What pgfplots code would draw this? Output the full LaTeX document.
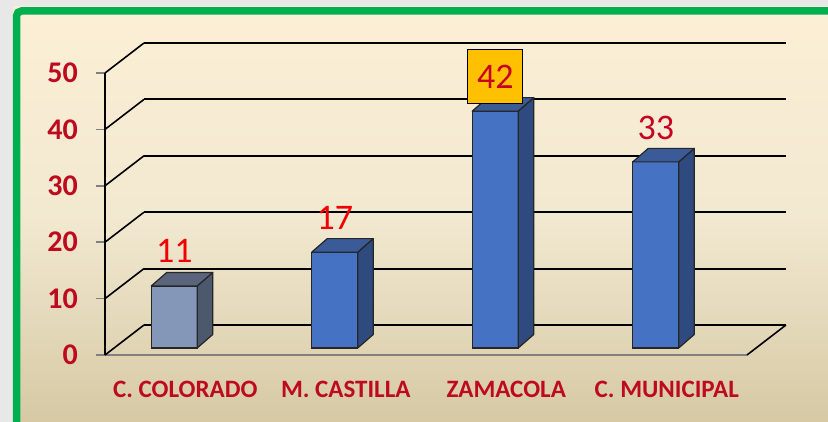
\documentclass[border=0pt]{standalone}
\usepackage{fontspec}
\setmainfont{Carlito}
\usepackage{pgfplots}
\pgfplotsset{compat=1.18}

\definecolor{frameGreen}{RGB}{0,176,80}
\definecolor{outerGrey}{RGB}{232,232,232}
\definecolor{creamTop}{RGB}{252,239,213}
\definecolor{creamMid}{RGB}{242,233,209}
\definecolor{creamBot}{RGB}{214,201,164}
\definecolor{labRed}{RGB}{190,10,30}
\definecolor{valRed}{RGB}{240,0,0}
\definecolor{valDark}{RGB}{200,0,35}
\definecolor{barFront}{RGB}{70,114,196}
\definecolor{barSide}{RGB}{46,74,126}
\definecolor{barTop}{RGB}{58,90,152}
\definecolor{greyFront}{RGB}{132,151,184}
\definecolor{greySide}{RGB}{76,88,108}
\definecolor{greyTop}{RGB}{90,100,124}
\definecolor{boxYellow}{RGB}{255,192,0}
\definecolor{tickGrey}{RGB}{128,128,128}

\pgfdeclareplotmark{nothing}{}

\pgfplotsset{
  basebox/.style={
    scale only axis, width=642pt, height=282pt,
    xmin=-0.5, xmax=3.5, ymin=0, ymax=50,
    clip=false,
  },
  hiddenbox/.style={
    basebox,
    axis line style={draw=none},
    xtick=\empty, ytick=\empty,
  },
  % top and side face of a bar, drawn at the bar's top-front
  faces/.style n args={2}{
    scatter, only marks, mark=nothing,
    visualization depends on={rawy\as\rawy},
    scatter/@pre marker code/.code={
      \pgfmathsetmacro\hb{13.5-\rawy*5.64}
      \pgfmathsetmacro\hf{-\rawy*5.64}
      \filldraw[fill=#2, draw=black!85, line width=1.2pt, line join=round]
        (23pt,0pt) -- (38.5pt,13.5pt) -- (38.5pt,\hb pt) -- (23pt,\hf pt) -- cycle;
      \filldraw[fill=#1, draw=black!85, line width=1.2pt, line join=round]
        (-23pt,0pt) -- (23pt,0pt) -- (38.5pt,13.5pt) -- (-7.5pt,13.5pt) -- cycle;
    },
    scatter/@post marker code/.code={},
  },
  frontbar/.style={
    ybar, bar width=46pt, bar shift=0pt,
    fill=#1, draw=black!85, line width=1.2pt,
  },
}

\begin{document}
\begin{tikzpicture}
\useasboundingbox (0,0) rectangle (828pt,422pt);
\fill[outerGrey] (0,0) rectangle (828pt,422pt);
\shade[top color=creamTop, bottom color=creamBot, middle color=creamMid]
  (13pt,0pt) rectangle (840pt,415pt);
\draw[frameGreen, line width=7.5pt, rounded corners=5pt]
  (16.5pt,-10pt) -- (16.5pt,411pt) -- (840pt,411pt);

% back wall with horizontal grid lines
\begin{axis}[
  hiddenbox,
  at={(144pt,97pt)}, anchor=south west,
  ytick={0,10,...,50}, yticklabels={},
  major tick length=0pt,
  ymajorgrids, grid style={black, line width=2pt},
]
\end{axis}

% front axis: ticks, labels, left wall and floor edges
\begin{axis}[
  basebox,
  at={(105pt,67pt)}, anchor=south west,
  axis x line*=bottom, axis y line*=left,
  x axis line style={tickGrey, line width=1.5pt, -},
  y axis line style={black, line width=1.3pt, -},
  ytick={0,10,...,50},
  xtick={0,1,2,3},
  xticklabels={C. COLORADO, M. CASTILLA, ZAMACOLA, C. MUNICIPAL},
  minor xtick={-0.5,0.5,...,3.5},
  tick align=outside,
  major tick length=9pt,
  x tick style={draw=none},
  minor x tick style={tickGrey, line width=1.5pt},
  minor tick length=10pt,
  y tick style={tickGrey, line width=1.5pt},
  /pgf/number format/assume math mode=true,
  yticklabel style={font=\fontsize{30}{30}\selectfont\bfseries, text=labRed, inner sep=0pt, xshift=-18pt},
  xticklabel style={font=\fontsize{25}{25}\selectfont\bfseries, text=labRed, inner sep=0pt, yshift=-17pt},
]
\pgfplotsinvokeforeach{0,10,...,50}{
  \draw[black, line width=1.6pt] (axis cs:-0.5,#1) -- ++(39pt,30pt);
}
\draw[black, line width=1.6pt] (axis cs:3.5,0) -- ++(39pt,30pt);
\end{axis}

% bars, set a little back into the floor
\begin{axis}[
  hiddenbox,
  at={(94pt,74pt)}, anchor=south west,
  /pgf/number format/assume math mode=true,
]
\addplot[frontbar=greyFront] coordinates {(0,11)};
\addplot[frontbar=barFront] coordinates {(1,17) (2,42) (3,33)};
\addplot[faces={greyTop}{greySide}] coordinates {(0,11)};
\addplot[faces={barTop}{barSide}] coordinates {(1,17) (2,42) (3,33)};
% value labels
\addplot[only marks, mark=nothing, nodes near coords,
  nodes near coords style={font=\fontsize{36}{36}\selectfont, text=valRed, anchor=base, yshift=23pt}]
  coordinates {(0,11) (1,17)};
\addplot[only marks, mark=nothing, nodes near coords,
  nodes near coords style={font=\fontsize{36}{36}\selectfont, text=valDark, anchor=base, yshift=22pt}]
  coordinates {(3,33)};
\addplot[only marks, mark=nothing, nodes near coords,
  nodes near coords style={font=\fontsize{36}{36}\selectfont, text=valDark, anchor=south,
    fill=boxYellow, draw=black, line width=1.2pt, minimum width=55pt, minimum height=54pt,
    inner sep=0pt, yshift=7pt}]
  coordinates {(2,42)};
\end{axis}
\end{tikzpicture}
\end{document}
